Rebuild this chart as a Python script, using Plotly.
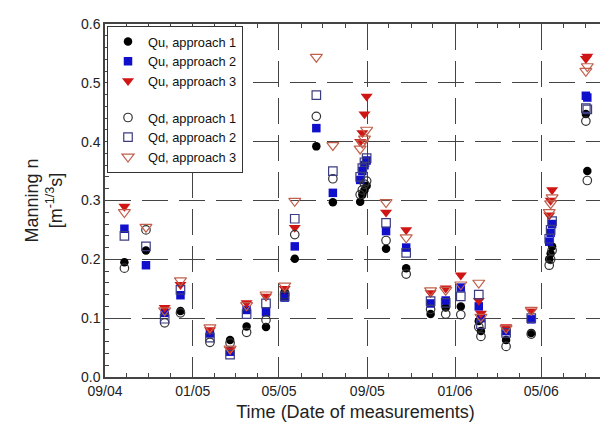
import plotly.graph_objects as go

# measurement dates
dates = [
    "2004-09-28", "2004-10-28", "2004-11-23", "2004-12-15", "2005-01-25",
    "2005-02-22", "2005-03-17", "2005-04-13", "2005-05-09", "2005-05-23",
    "2005-06-22", "2005-07-15", "2005-08-22", "2005-08-25", "2005-08-28",
    "2005-08-31", "2005-09-27", "2005-10-25", "2005-11-28", "2005-12-19",
    "2006-01-09", "2006-02-03", "2006-02-06", "2006-03-13", "2006-04-17",
    "2006-05-12", "2006-05-14", "2006-05-16", "2006-07-02", "2006-07-04",
]

qu_app1 = [0.195, 0.215, None, 0.112, None, 0.063, 0.086, 0.085, 0.145, 0.201,
           0.392, 0.297, 0.298, 0.310, 0.318, 0.325, 0.218, 0.185, 0.107, 0.118,
           0.120, 0.095, 0.078, 0.063, 0.075, 0.200, 0.210, 0.222, 0.447, 0.350]
qu_app2 = [0.252, 0.190, 0.109, 0.139, 0.074, 0.043, 0.114, 0.110, 0.135, 0.222,
           0.423, 0.313, 0.335, 0.350, 0.360, 0.368, 0.248, 0.220, 0.125, 0.130,
           0.152, 0.120, 0.100, 0.078, 0.098, 0.230, 0.245, 0.260, 0.478, 0.475]
qu_app3 = [0.290, None, 0.118, 0.157, 0.080, 0.046, 0.126, 0.137, 0.150, 0.254,
           None, None, 0.400, 0.415, 0.447, 0.477, 0.280, 0.250, 0.143, 0.151,
           0.173, 0.130, 0.108, 0.085, 0.112, 0.275, 0.300, 0.318, 0.541, 0.545]
qd_app1 = [0.185, 0.250, 0.092, 0.109, 0.059, 0.058, 0.076, 0.097, 0.140, 0.242,
           0.443, 0.337, 0.310, 0.318, 0.328, 0.333, 0.232, 0.175, 0.115, 0.107,
           0.106, 0.085, 0.069, 0.052, 0.073, 0.190, 0.200, 0.215, 0.435, 0.334]
qd_app2 = [0.240, 0.222, 0.099, 0.148, 0.067, 0.038, 0.107, 0.125, 0.137, 0.269,
           0.479, 0.350, 0.340, 0.355, 0.365, 0.372, 0.262, 0.211, 0.129, 0.126,
           0.137, 0.140, 0.090, 0.075, 0.100, 0.235, 0.250, 0.265, 0.457, 0.455]
qd_app3 = [0.280, 0.255, 0.113, 0.164, 0.084, 0.048, 0.122, 0.140, 0.155, 0.299,
           0.544, 0.394, 0.388, 0.398, 0.405, 0.420, 0.297, 0.237, 0.147, 0.148,
           0.157, 0.160, 0.102, 0.083, 0.114, 0.280, 0.295, 0.305, 0.520, 0.528]

y_ticks = [0.0, 0.1, 0.2, 0.3, 0.4, 0.5, 0.6]
y_tick_labels = ["0.0", "0.1", "0.2", "0.3", "0.4", "0.5", "0.6"]

FONT = "Liberation Sans, Arial, sans-serif"

fig = go.Figure()

series = [
    ("Qu, approach 1", "u", qu_app1, dict(symbol="circle", size=8.5, color="#000000")),
    ("Qu, approach 2", "u", qu_app2, dict(symbol="square", size=8.5, color="#1010cc")),
    ("Qu, approach 3", "u", qu_app3, dict(symbol="triangle-down", size=10.5, color="#d01515")),
    ("Qd, approach 1", "d", qd_app1, dict(symbol="circle-open", size=8.5, color="#333333",
                                          line=dict(width=1.2))),
    ("Qd, approach 2", "d", qd_app2, dict(symbol="square-open", size=8.5, color="#3c3c80",
                                          line=dict(width=1.2))),
    ("Qd, approach 3", "d", qd_app3, dict(symbol="triangle-down-open", size=10.5, color="#c0604c",
                                          line=dict(width=1.2))),
]

for name, grp, vals, marker in series:
    fig.add_trace(go.Scatter(x=dates, y=vals, mode="markers", name=name,
                             legendgroup=grp, marker=marker))

grid_style = dict(showgrid=True, gridcolor="#444444", gridwidth=1.3, griddash="26px,11px")

fig.update_layout(
    width=608, height=422,
    margin=dict(l=97, r=8, t=16, b=53),
    paper_bgcolor="white", plot_bgcolor="white",
    font=dict(family=FONT, size=14, color="#222222"),
    showlegend=True,
    legend=dict(x=0.004, y=0.995, xanchor="left", yanchor="top",
                bgcolor="white", bordercolor="#333333", borderwidth=1,
                font=dict(family=FONT, size=12.8, color="#111111"),
                traceorder="grouped", tracegroupgap=17, itemwidth=30,
                entrywidth=118, entrywidthmode="pixels"),
    xaxis=dict(
        type="date",
        range=["2004-09-01", "2006-07-30"],
        tick0="2004-09-01", dtick="M4", tickformat="%m/%y",
        ticks="inside", ticklen=7, tickcolor="#444444",
        minor=dict(dtick="M1", ticks="inside", ticklen=4, tickcolor="#444444", showgrid=False),
        showline=True, linecolor="#444444", linewidth=1.5, mirror="ticks",
        tickfont=dict(family=FONT, size=14, color="#222222"),
        title=dict(text="Time (Date of measurements)", font=dict(family=FONT, size=18, color="#222222"),
                   standoff=8),
        zeroline=False,
        **grid_style,
    ),
    yaxis=dict(
        range=[0, 0.6],
        tickvals=y_ticks, ticktext=y_tick_labels,
        ticks="inside", ticklen=7, tickcolor="#444444",
        minor=dict(dtick=0.02, ticks="inside", ticklen=4, tickcolor="#444444", showgrid=False),
        showline=True, linecolor="#444444", linewidth=1.5, mirror="ticks",
        tickfont=dict(family=FONT, size=14, color="#222222"),
        title=dict(text="Manning n<br>[m<sup>-1/3</sup>s]", font=dict(family=FONT, size=18, color="#222222"),
                   standoff=14),
        zeroline=False,
        **grid_style,
    ),
)

fig.write_html("out.html")
